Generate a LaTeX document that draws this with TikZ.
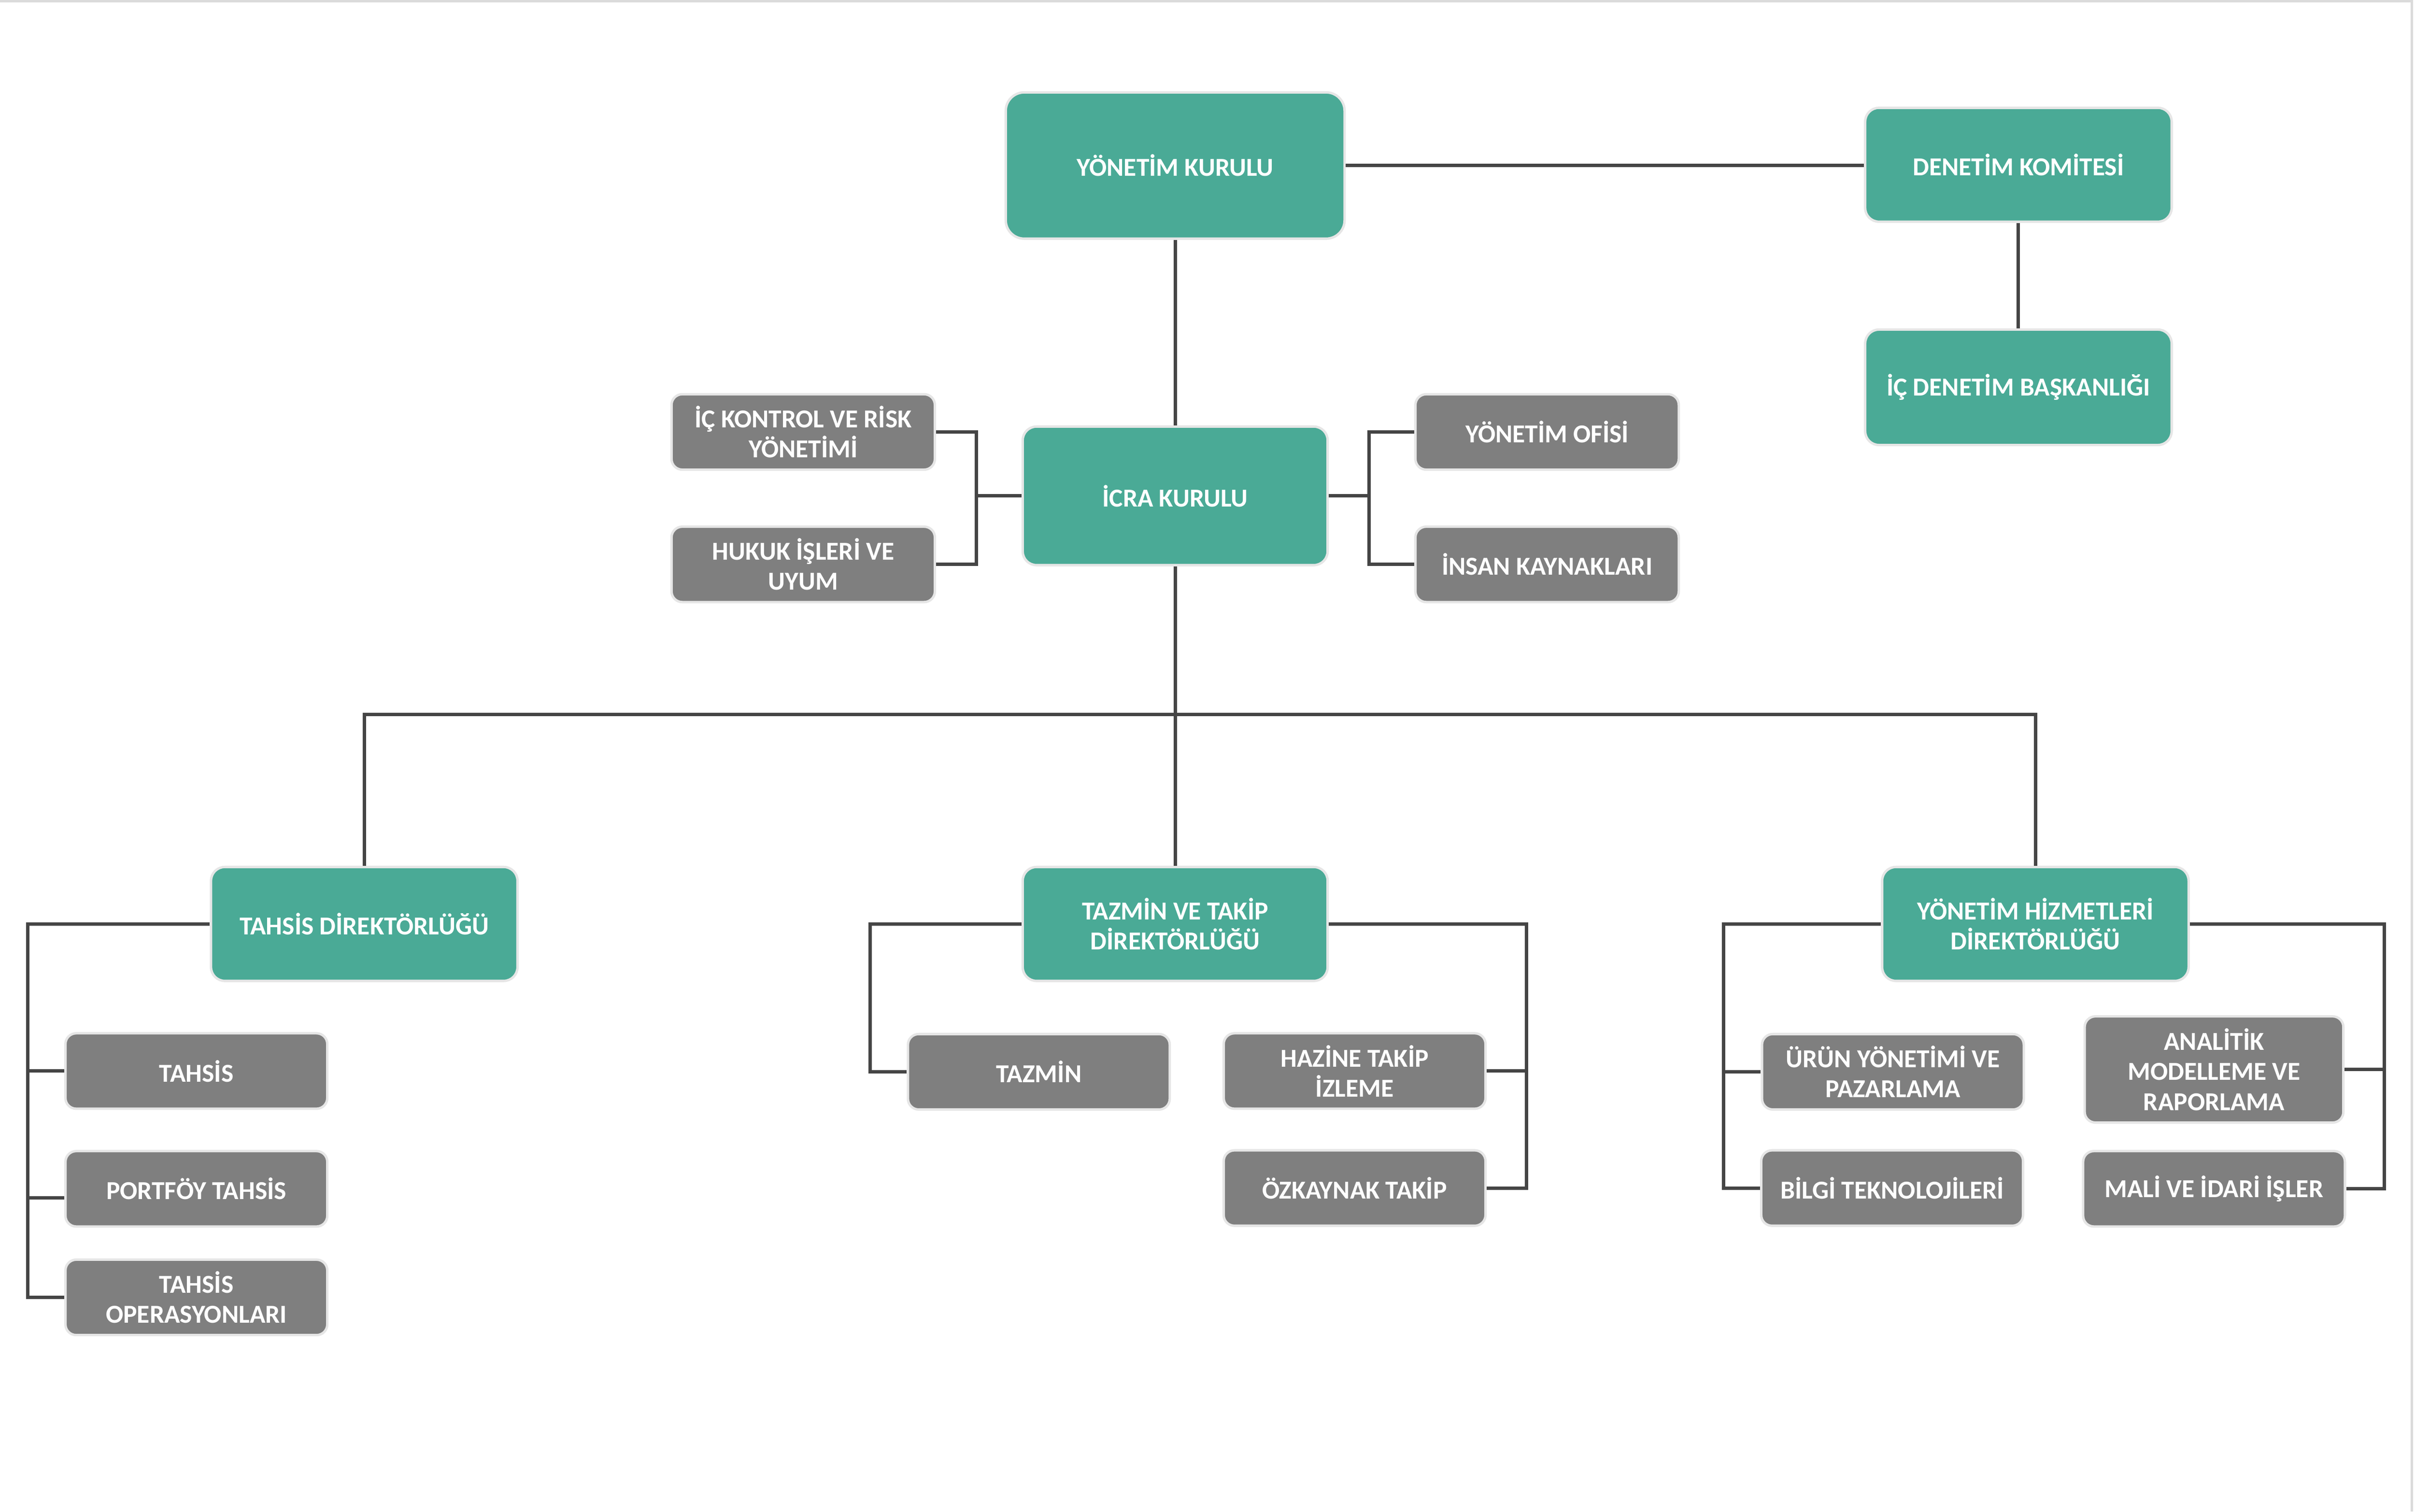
\documentclass[tikz,border=0pt]{standalone}
\usepackage{fontspec}
\setmainfont{Carlito}
\usetikzlibrary{calc}
\definecolor{teal1}{HTML}{4AAA96}
\definecolor{gray1}{HTML}{7F7F7F}
\definecolor{linec}{HTML}{454545}
\definecolor{rim}{HTML}{E6E6E6}
\tikzset{
  box/.style={rectangle, rounded corners=9pt, draw=rim, line width=1.6pt, text=white,
    font=\fontsize{16.8}{19.5}\selectfont\bfseries, align=center, inner sep=0pt},
  tbox/.style={box, fill=teal1, minimum width=199pt, minimum height=74pt},
  gbox/.style={box, fill=gray1, rounded corners=7pt, minimum width=170pt, minimum height=49pt},
  conn/.style={draw=linec, line width=2.2pt},
  frame/.style={draw=black!14, line width=1.5pt}
}
\begin{document}
\begin{tikzpicture}[x=1pt, y=-1pt]
\useasboundingbox (0,0) rectangle (1568,981.6);
\draw[frame] (0,0.8) -- (1566,0.8) -- (1566,981.6);

% top level
\node[tbox, minimum width=220pt, minimum height=95pt, rounded corners=12pt] (yk) at (763,107.5) {YÖNETİM KURULU};
\node[tbox] (dk) at (1310.5,107) {DENETİM KOMİTESİ};
\node[tbox, minimum height=75pt] (idb) at (1310.5,251.5) {İÇ DENETİM BAŞKANLIĞI};
\node[tbox, minimum width=198pt, minimum height=90pt] (icra) at (763,322) {İCRA KURULU};

% staff units
\node[gbox, minimum width=171pt] (ick) at (521.5,280.5) {İÇ KONTROL VE RİSK\\YÖNETİMİ};
\node[gbox, minimum width=171pt] (huk) at (521.5,366.5) {HUKUK İŞLERİ VE\\UYUM};
\node[gbox, minimum width=171pt] (yo) at (1004.5,280.5) {YÖNETİM OFİSİ};
\node[gbox, minimum width=171pt] (ik) at (1004.5,366.5) {İNSAN KAYNAKLARI};

% directorates
\node[tbox] (td) at (236.5,600) {TAHSİS DİREKTÖRLÜĞÜ};
\node[tbox, minimum width=198pt] (tzd) at (763,600) {TAZMİN VE TAKİP\\DİREKTÖRLÜĞÜ};
\node[tbox] (yhd) at (1321.5,600) {YÖNETİM HİZMETLERİ\\DİREKTÖRLÜĞÜ};

% tahsis group
\node[gbox] (tah) at (127.5,695.5) {TAHSİS};
\node[gbox] (port) at (127.5,772) {PORTFÖY TAHSİS};
\node[gbox] (tops) at (127.5,842.5) {TAHSİS\\OPERASYONLARI};

% tazmin group
\node[gbox] (tzm) at (674.5,696) {TAZMİN};
\node[gbox] (hzn) at (879.5,695.5) {HAZİNE TAKİP\\İZLEME};
\node[gbox] (ozk) at (879.5,771.5) {ÖZKAYNAK TAKİP};

% yhd group
\node[gbox] (urn) at (1229,696) {ÜRÜN YÖNETİMİ VE\\PAZARLAMA};
\node[gbox] (bil) at (1228.5,771.5) {BİLGİ TEKNOLOJİLERİ};
\node[gbox, minimum width=168pt, minimum height=69pt] (ana) at (1437.5,694.5) {ANALİTİK\\MODELLEME VE\\RAPORLAMA};
\node[gbox] (mal) at (1437.5,772) {MALİ VE İDARİ İŞLER};

% connectors top
\draw[conn] (yk.east) -- (yk.east -| dk.west);
\draw[conn] (dk.south) -- (idb.north);
\draw[conn] (yk.south) -- (icra.north);

\coordinate (lb) at (634,322);
\coordinate (rb) at (889,322);
\draw[conn] (icra.west) -- (lb);
\draw[conn] (ick.east) -| (lb) |- (huk.east);
\draw[conn] (icra.east) -- (rb);
\draw[conn] (yo.west) -| (rb) |- (ik.west);

\coordinate (bus) at (763,464);
\draw[conn] (icra.south) -- (bus);
\draw[conn] (td.north) |- (bus) -| (yhd.north);
\draw[conn] (bus) -- (tzd.north);

% tahsis connectors
\coordinate (tl) at (18,600);
\coordinate (pw) at ([yshift=-6pt]port.west);
\draw[conn] (td.west) -- (tl) |- (tops.west);
\draw[conn] (tl |- tah.west) -- (tah.west);
\draw[conn] (tl |- pw) -- (pw);

% tazmin connectors
\coordinate (zl) at (565,600);
\coordinate (zr) at (991,600);
\draw[conn] (tzd.west) -- (zl) |- (tzm.west);
\draw[conn] (tzd.east) -- (zr) |- (ozk.east);
\draw[conn] (hzn.east) -- (hzn.east -| zr);

% yhd connectors
\coordinate (yl) at (1119,600);
\coordinate (yr) at (1548,600);
\draw[conn] (yhd.west) -- (yl) |- (bil.west);
\draw[conn] (urn.west -| yl) -- (urn.west);
\draw[conn] (yhd.east) -- (yr) |- (mal.east);
\draw[conn] (ana.east) -- (ana.east -| yr);
\end{tikzpicture}
\end{document}
